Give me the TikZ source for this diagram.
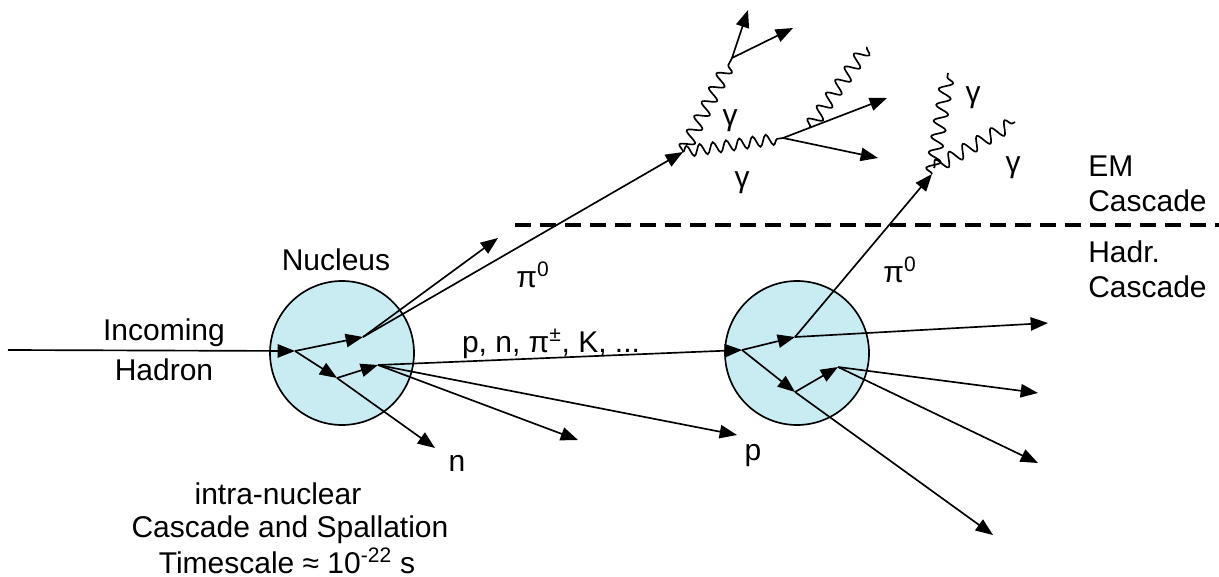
\documentclass[tikz,border=0pt]{standalone}
\usepackage{fontspec}
\setmainfont{Liberation Sans}
\usetikzlibrary{arrows.meta,decorations.pathmorphing}
\definecolor{nucfill}{RGB}{200,236,242}
\begin{document}
\begin{tikzpicture}[x=0.75pt,y=-0.75pt,
  lbl/.style={font=\fontsize{22.5}{26}\selectfont, inner sep=0pt},
  trk/.style={line width=1.25pt, -{Triangle[length=13pt,width=10pt]}},
  photon/.style={line width=1.25pt, decorate, decoration={snake, segment length=12pt, amplitude=5pt}},
  photonh/.style={line width=1.25pt, decorate, decoration={snake, segment length=10pt, amplitude=4.2pt}},
  nucleus/.style={circle, draw, line width=1.25pt, fill=nucfill, minimum size=108pt, inner sep=0pt},
  border/.style={line width=2.5pt, dash pattern=on 12pt off 6.75pt}]
\useasboundingbox (0,0) rectangle (1219,577);

% nuclei
\node[nucleus] (nuc1) at (342,353) {};
\node[nucleus] (nuc2) at (797,353) {};

% vertices and end points
\coordinate (in) at (8,350);
\coordinate (a1) at (295,351);
\coordinate (b1) at (363,337);
\coordinate (c1) at (337,378);
\coordinate (d1) at (378,365);
\coordinate (n1) at (435,448);
\coordinate (e1) at (498,238);
\coordinate (v1) at (683,152);
\coordinate (f1) at (578,440);
\coordinate (p1) at (737,435);
\coordinate (a2) at (742,350);
\coordinate (b2) at (795,337);
\coordinate (c2) at (795,392);
\coordinate (d2) at (838,367);
\coordinate (g2) at (993,535);
\coordinate (h2) at (1048,323);
\coordinate (v4) at (932,174);
\coordinate (i2) at (1038,393);
\coordinate (j2) at (1038,463);
\coordinate (v2) at (783,138);
\coordinate (v3) at (732,58);
\coordinate (t1) at (748,10);
\coordinate (t2) at (793,28);
\coordinate (t3) at (887,98);
\coordinate (t4) at (878,158);
\coordinate (w1) at (810,127);
\coordinate (w2) at (867,47);
\coordinate (r1) at (948,73);
\coordinate (r0) at (934,168);
\coordinate (r2) at (1015,122);
\coordinate (dl) at (515,225);
\coordinate (dr) at (1219,225);

% EM / hadronic border
\draw[border] (dl) -- (dr);

% first nucleus
\draw[trk] (in) -- (a1);
\draw[trk] (a1) -- (b1);
\draw[trk] (a1) -- (c1);
\draw[trk] (c1) -- (d1);
\draw[trk] (c1) -- (n1);
\draw[trk] (b1) -- (e1);
\draw[trk] (b1) -- (v1);
\draw[trk] (d1) -- (a2);
\draw[trk] (d1) -- (f1);
\draw[trk] (d1) -- (p1);

% second nucleus
\draw[trk] (a2) -- (b2);
\draw[trk] (a2) -- (c2);
\draw[trk] (c2) -- (d2);
\draw[trk] (c2) -- (g2);
\draw[trk] (b2) -- (h2);
\draw[trk] (b2) -- (v4);
\draw[trk] (d2) -- (i2);
\draw[trk] (d2) -- (j2);

% EM cascade (left)
\draw[photonh] (v1) -- (v2);
\draw[photon] (v1) -- (v3);
\draw[trk] (v3) -- (t1);
\draw[trk] (v3) -- (t2);
\draw[trk] (v2) -- (t3);
\draw[trk] (v2) -- (t4);
\draw[photon] (w1) -- (w2);

% EM cascade (right)
\draw[photon] (v4) -- (r1);
\draw[photon] (r0) -- (r2);

% labels
\node[lbl, anchor=base] (tnuc) at (336,270) {Nucleus};
\node[lbl, anchor=base] (tin1) at (164,340) {Incoming};
\node[lbl, anchor=base] (tin2) at (164,380) {Hadron};
\node[lbl, anchor=base] (tprod) at (551,352) {p, n, π\textsuperscript{±}, K, ...};
\node[lbl, anchor=base] (tn) at (457,471) {n};
\node[lbl, anchor=base] (tp) at (753,460) {p};
\node[lbl, anchor=base] (tpi1) at (533,287) {π\textsuperscript{0}};
\node[lbl, anchor=base] (tpi2) at (900,282) {π\textsuperscript{0}};
\node[lbl, anchor=base] (tg1) at (730,126) {γ};
\node[lbl, anchor=base] (tg2) at (742,188) {γ};
\node[lbl, anchor=base] (tg3) at (973,103) {γ};
\node[lbl, anchor=base] (tg4) at (1013,173) {γ};
\node[lbl, anchor=base west] (tem1) at (1088,177) {EM};
\node[lbl, anchor=base west] (tem2) at (1088,212) {Cascade};
\node[lbl, anchor=base west] (thad1) at (1088,262) {Hadr.};
\node[lbl, anchor=base west] (thad2) at (1088,297) {Cascade};
\node[lbl, anchor=base] (tb1) at (278,504) {intra-nuclear};
\node[lbl, anchor=base] (tb2) at (290,537) {Cascade and Spallation};
\node[lbl, anchor=base] (tb3) at (287,573) {Timescale ≈ 10\textsuperscript{-22} s};
\end{tikzpicture}
\end{document}
